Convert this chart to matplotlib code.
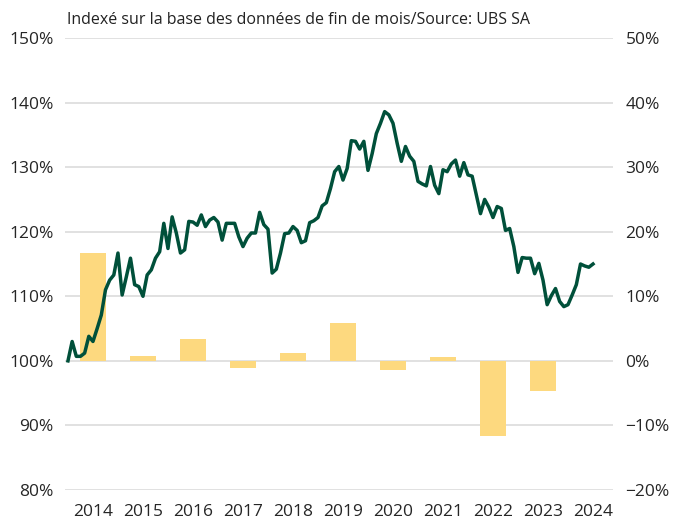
import numpy as np
import matplotlib
matplotlib.use("Agg")
import matplotlib.pyplot as plt

# Index values, monthly, end of Dec 2013 = 100 (through Jun 2024)
index_vals = [
    100.0, 103.0, 100.7, 100.7, 101.2, 103.8, 103.0, 105.0, 107.1, 111.0, 112.5, 113.3, 116.7,
    110.2, 113.0, 115.9, 111.8, 111.5, 110.0, 113.3, 114.1, 115.9, 116.9, 121.3, 117.4,
    122.3, 119.8, 116.7, 117.2, 121.6, 121.5, 121.0, 122.6, 120.8, 121.8, 122.2, 121.5,
    118.7, 121.3, 121.3, 121.3, 119.2, 117.7, 119.0, 119.8, 119.8, 123.0, 121.1, 120.4,
    113.6, 114.2, 116.7, 119.7, 119.8, 120.8, 120.2, 118.3, 118.6, 121.4, 121.7, 122.2,
    124.0, 124.5, 126.7, 129.3, 130.1, 128.0, 129.8, 134.1, 134.0, 132.8, 134.0, 129.5,
    132.1, 135.2, 136.8, 138.6, 138.1, 136.8, 133.7, 130.9, 133.2, 131.7, 130.9, 127.8,
    127.4, 127.1, 130.1, 127.2, 125.9, 129.6, 129.3, 130.5, 131.1, 128.6, 130.7, 128.8,
    128.6, 125.7, 122.8, 125.0, 123.8, 122.2, 123.9, 123.6, 120.2, 120.5, 117.7, 113.7,
    116.0, 115.9, 115.9, 113.5, 115.1, 112.5, 108.7, 110.1, 111.2, 109.2, 108.4, 108.7,
    110.2, 111.8, 115.0, 114.7, 114.5, 115.0,
]

# Calendar-year returns (%)
years = [2014, 2015, 2016, 2017, 2018, 2019, 2020, 2021, 2022, 2023]
annual_ret = [16.7, 0.8, 3.4, -1.1, 1.2, 5.9, -1.4, 0.6, -11.6, -4.6]

year_labels = [str(y) for y in range(2014, 2025)]
left_ticks = [80, 90, 100, 110, 120, 130, 140, 150]
right_ticks = [-20, -10, 0, 10, 20, 30, 40, 50]

LINE = "#00503a"
BAR = "#fdd97f"
GRID = "#d9d9d9"
TXT = "#262626"

plt.rcParams['font.family'] = ['Open Sans', 'DejaVu Sans']

fig = plt.figure(figsize=(6.74, 5.2), dpi=100)
ax2 = fig.add_axes([0.0964, 0.0577, 0.8131, 0.8692])
ax = ax2.twinx()

# x in years: end of Dec 2013 sits at 2014.0
t = 2014 + np.arange(len(index_vals)) / 12

ax2.bar(np.array(years) + 0.5, annual_ret, width=0.52, color=BAR, zorder=1)
ax2.set_ylim(-20, 50)
ax2.set_yticks(right_ticks)
ax2.set_yticklabels([("\u2212" if v < 0 else "") + f"{abs(v)}%" for v in right_ticks])
ax2.yaxis.tick_right()
# grid lines under the bars, one per left tick (left 100% == right 0%)
for v in right_ticks:
    ax2.axhline(v, color=GRID, lw=1.1, zorder=0)

ax.plot(t, index_vals, color=LINE, lw=2.5, solid_joinstyle="round", zorder=3)
ax.set_ylim(80, 150)
ax.set_yticks(left_ticks)
ax.set_yticklabels([f"{v}%" for v in left_ticks])
ax.yaxis.tick_left()

ax.set_xlim(2013.94, 2024.9)
ax2.set_xticks(np.arange(2014, 2025) + 0.5)
ax2.set_xticklabels(year_labels)

for a in (ax, ax2):
    for s in a.spines.values():
        s.set_visible(False)
    a.tick_params(length=0, labelsize=12.5, colors=TXT)
ax.tick_params(axis="y", pad=8)
ax2.tick_params(axis="y", pad=9)
ax2.tick_params(axis="x", pad=10)

fig.text(0.0994, 0.962, "Indexé sur la base des données de fin de mois/Source: UBS SA",
         fontsize=11.5, color="#222222", va="center")

fig.savefig("out.png", dpi=100)
